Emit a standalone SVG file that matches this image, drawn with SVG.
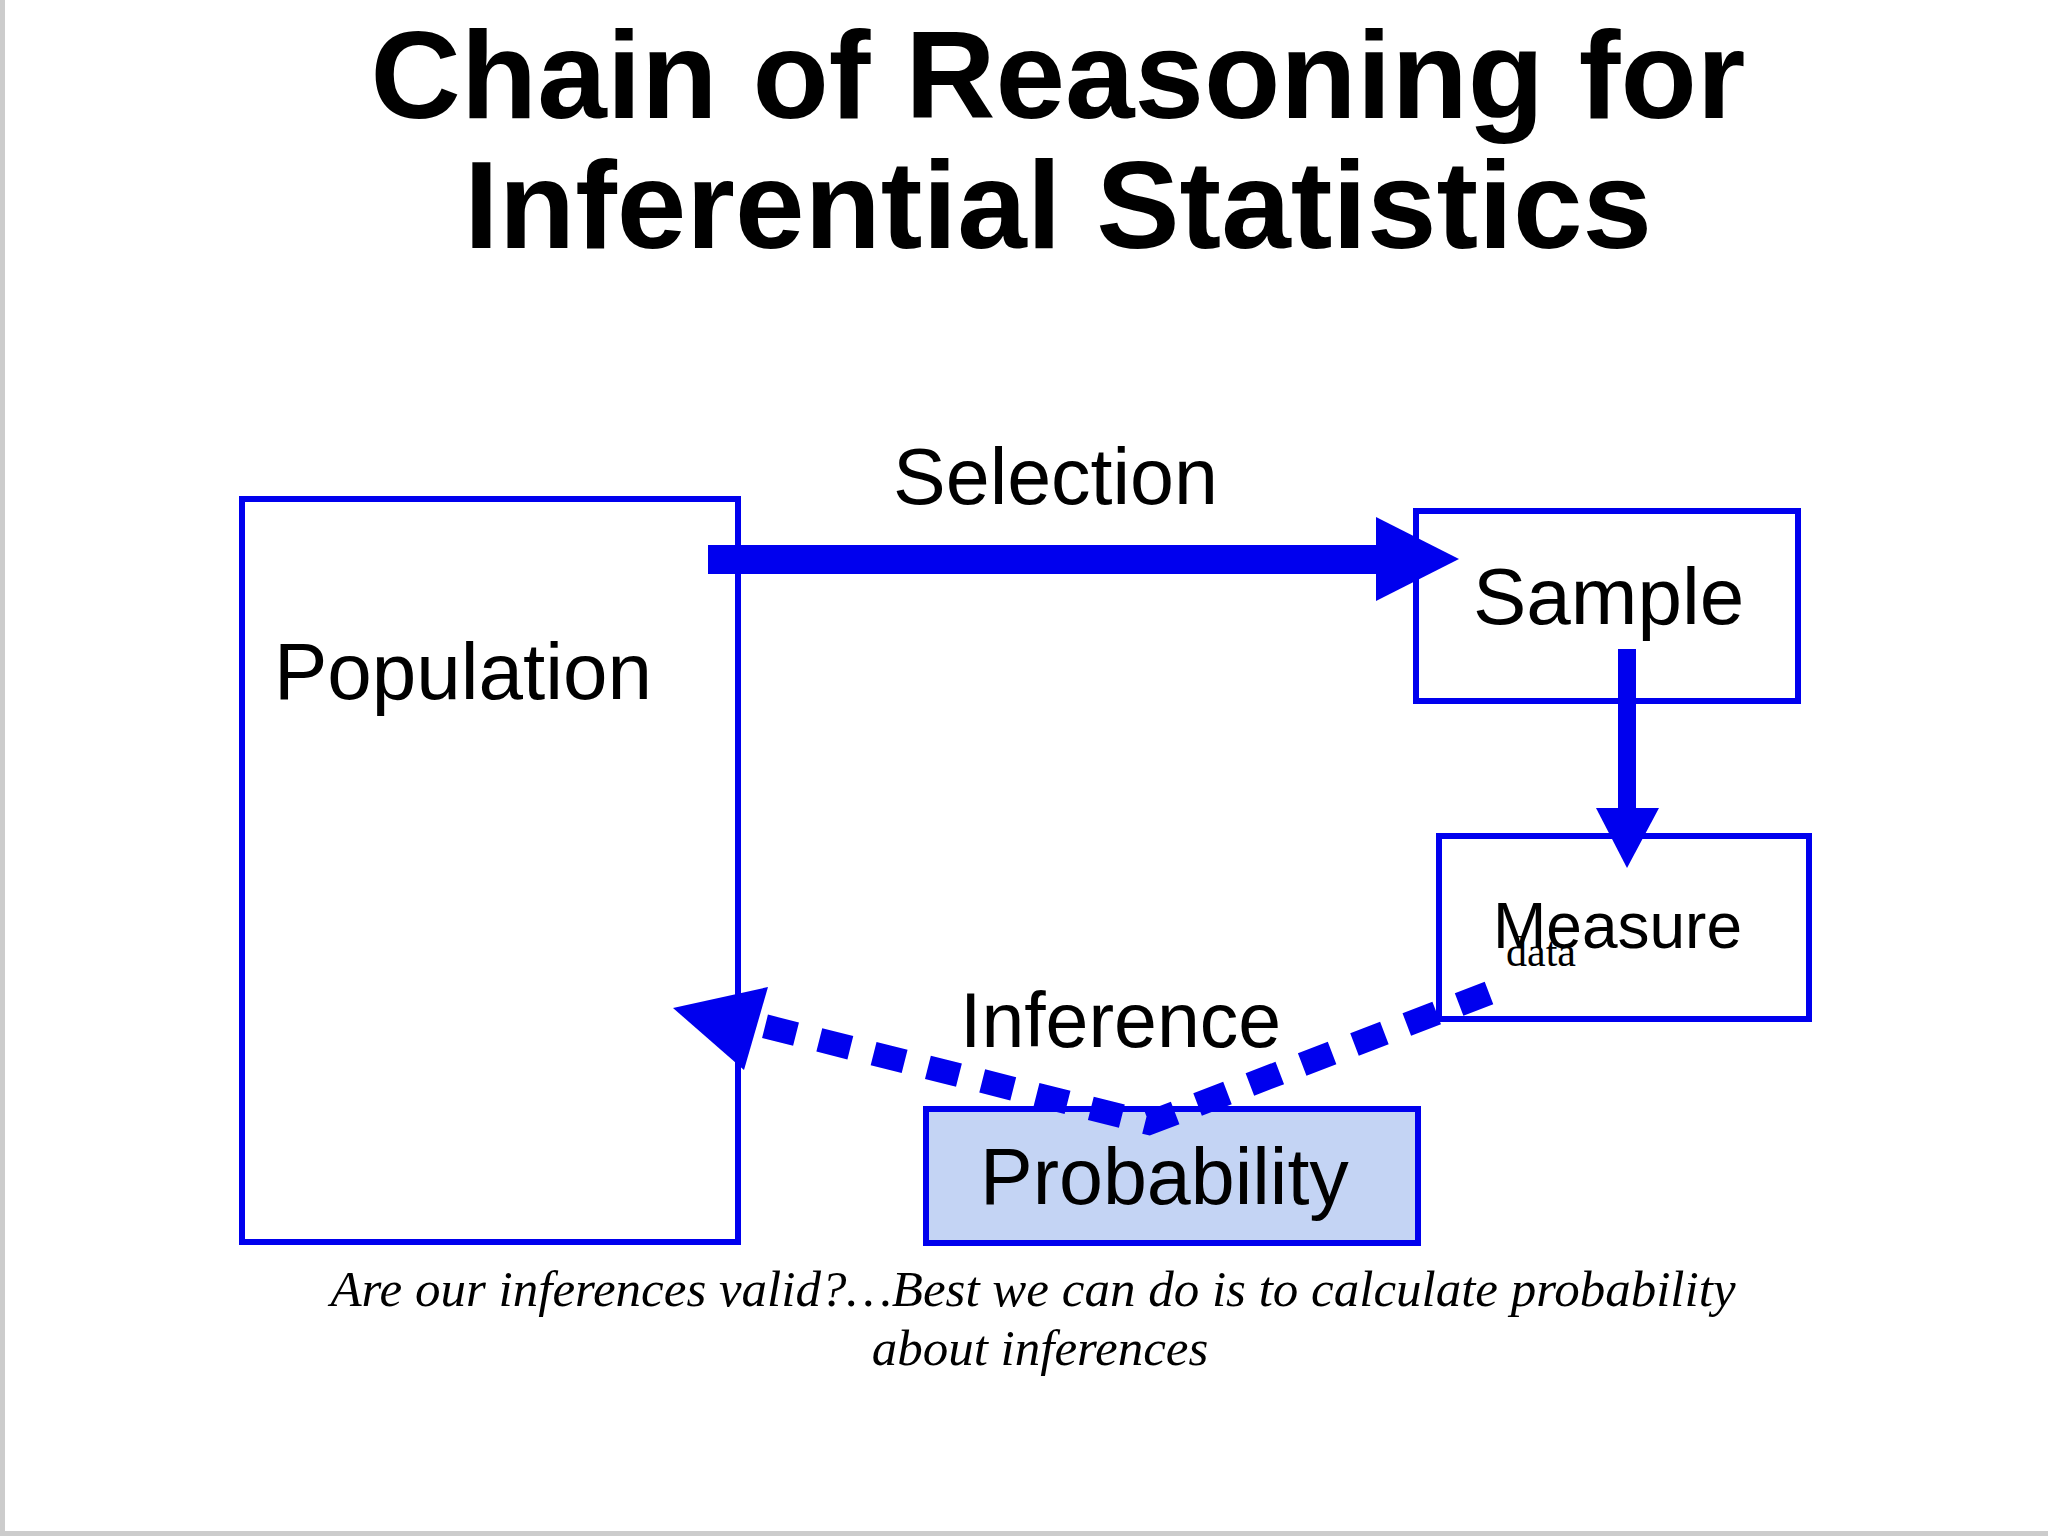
<svg xmlns="http://www.w3.org/2000/svg" width="2048" height="1536" viewBox="0 0 2048 1536">
<style>
.box{fill:#fff;stroke:#0000ee;stroke-width:6}
.lbl{font-family:"Liberation Sans",Arial,sans-serif;fill:#000}
.title{font-family:"Liberation Sans",Arial,sans-serif;font-weight:bold;font-size:125px;text-anchor:middle;fill:#000}
.cap{font-family:"Liberation Serif","Times New Roman",serif;font-style:italic;font-size:51px;text-anchor:middle;fill:#000}
</style>
<rect width="2048" height="1536" fill="#fff"/>
<rect x="0" y="0" width="5" height="1536" fill="#ccc"/>
<rect x="0" y="1531" width="2048" height="5" fill="#ccc"/>
<text class="title" x="1058" y="118">Chain of Reasoning for</text>
<text class="title" x="1058" y="248">Inferential Statistics</text>
<g id="population"><rect class="box" x="242" y="499" width="496" height="743"/><text class="lbl" x="274" y="699" font-size="80">Population</text></g>
<g id="sample"><rect class="box" x="1416" y="511" width="382" height="190"/><text class="lbl" x="1473" y="624" font-size="80">Sample</text></g>
<g id="measure"><rect class="box" x="1439" y="836" width="370" height="183"/><text class="lbl" x="1493" y="948" font-size="64">Measure</text><text x="1506" y="966" font-family="Liberation Serif,serif" font-size="42">data</text></g>
<g id="probability"><rect x="926" y="1109" width="492" height="134" fill="#c4d4f4" stroke="#0000ee" stroke-width="6"/><text class="lbl" x="980" y="1204" font-size="79">Probability</text></g>
<g id="connectors">
<rect x="708" y="545" width="672" height="29" fill="#0000ee"/>
<polygon points="1376,517 1459,559 1376,601" fill="#0000ee"/>
<rect x="1618" y="649" width="18" height="163" fill="#0000ee"/>
<polygon points="1596,808 1659,808 1627,868" fill="#0000ee"/>
<polyline points="1489,993 1149,1123 760,1025" fill="none" stroke="#0000ee" stroke-width="24" stroke-dasharray="32,24"/>
<polygon points="673,1008 768,987 744,1070" fill="#0000ee"/>
<text class="lbl" x="893" y="504" font-size="79">Selection</text>
<text class="lbl" x="960" y="1047" font-size="77">Inference</text>
</g>
<text class="cap" x="1033" y="1306">Are our inferences valid?…Best we can do is to calculate probability</text>
<text class="cap" x="1040" y="1365">about inferences</text>
</svg>
